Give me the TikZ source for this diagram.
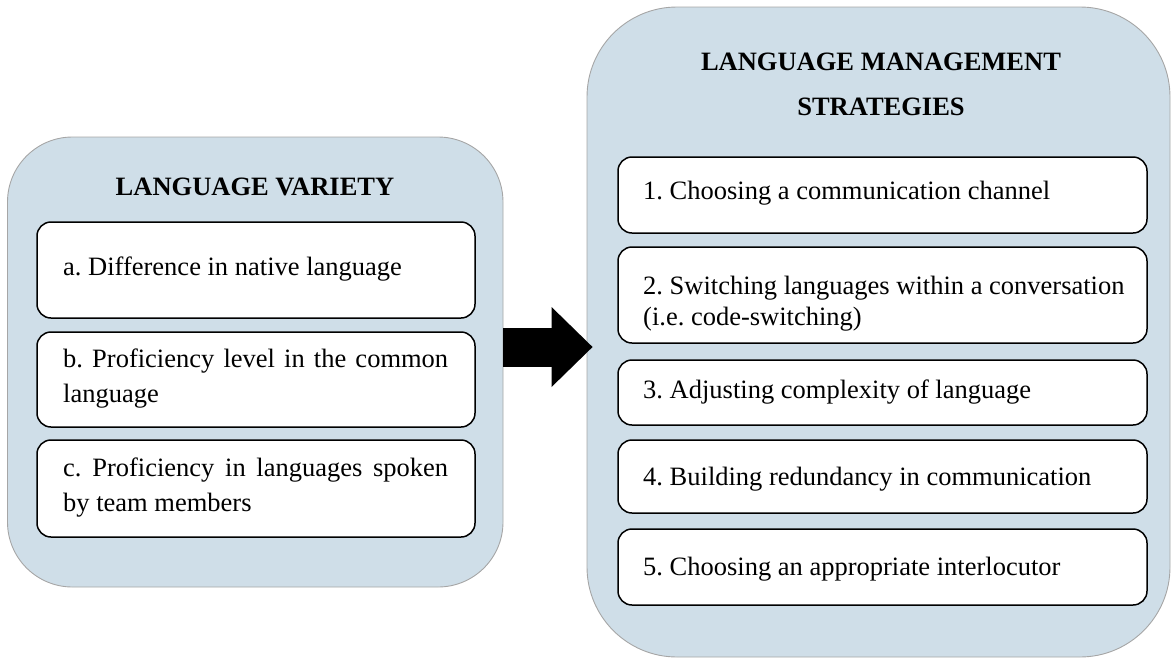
\documentclass[tikz,border=0pt]{standalone}
\usepackage{fontspec}
\setmainfont{Liberation Serif}
\usetikzlibrary{arrows.meta,calc}
\definecolor{panelblue}{RGB}{207,222,232}
\definecolor{outergray}{RGB}{166,166,166}
\begin{document}
\begin{tikzpicture}[x=1pt,y=-1pt,
  panel/.style={draw=outergray, line width=0.9pt, fill=panelblue, inner sep=0pt},
  itembox/.style={draw=black, line width=1.5pt, fill=white, rounded corners=14pt, inner sep=0pt},
  titletext/.style={font=\fontsize{26.5}{32}\selectfont\bfseries, inner sep=0pt, anchor=base},
  body/.style={font=\fontsize{26.5}{35}\selectfont\frenchspacing, inner sep=0pt, anchor=base west},
  bodyjust/.style={body, text width=385pt, align=justify},
  bigarrow/.style={draw=black, line width=39pt, shorten >=-6pt,
    -{Triangle[length=41pt,width=80pt,line width=0pt]}}]
\useasboundingbox (0,0) rectangle (1172,659);

% left panel
\node[panel, rounded corners=65pt, minimum width=495.5pt, minimum height=450pt] (lv) at (255.25,362) {};
\node[titletext] (lvtitle) at (255,195) {LANGUAGE VARIETY};
\node[itembox, minimum width=438pt, minimum height=96pt] (la) at (256,270) {};
\node[itembox, minimum width=438pt, minimum height=95pt] (lb) at (256,379.5) {};
\node[itembox, minimum width=438pt, minimum height=97pt] (lc) at (256,488.5) {};
\node[body] (lat) at (63,275) {a. Difference in native language};
\node[bodyjust] (lbt) at (63,367) {\hyphenpenalty=10000 b. Proficiency level in the common language};
\node[bodyjust] (lct) at (63,476) {\hyphenpenalty=10000 c. Proficiency in languages spoken by team members};

% right panel
\node[panel, rounded corners=90pt, minimum width=583pt, minimum height=650pt] (rm) at (878.5,332) {};
\node[titletext] (rmtitle1) at (881,70) {LANGUAGE MANAGEMENT};
\node[titletext] (rmtitle2) at (881,115) {STRATEGIES};
\node[itembox, minimum width=529pt, minimum height=76pt] (r1) at (882.5,195) {};
\node[itembox, minimum width=529pt, minimum height=96pt] (r2) at (882.5,295) {};
\node[itembox, minimum width=529pt, minimum height=65pt] (r3) at (882.5,392.5) {};
\node[itembox, minimum width=529pt, minimum height=73pt] (r4) at (882.5,476.5) {};
\node[itembox, minimum width=529pt, minimum height=76pt] (r5) at (882.5,567) {};
\node[body] (r1t) at (643,199) {1. Choosing a communication channel};
\node[body] (r2t) at (643,294) {2. Switching languages within a conversation};
\node[body] (r2u) at (643,325) {(i.e. code-switching)};
\node[body] (r3t) at (643,398) {3. Adjusting complexity of language};
\node[body] (r4t) at (643,485) {4. Building redundancy in communication};
\node[body] (r5t) at (643,575) {5. Choosing an appropriate interlocutor};

% arrow
\coordinate (arrowy) at (0,347);
\draw[bigarrow] (lv.east |- arrowy) -- (rm.west |- arrowy);
\end{tikzpicture}
\end{document}
